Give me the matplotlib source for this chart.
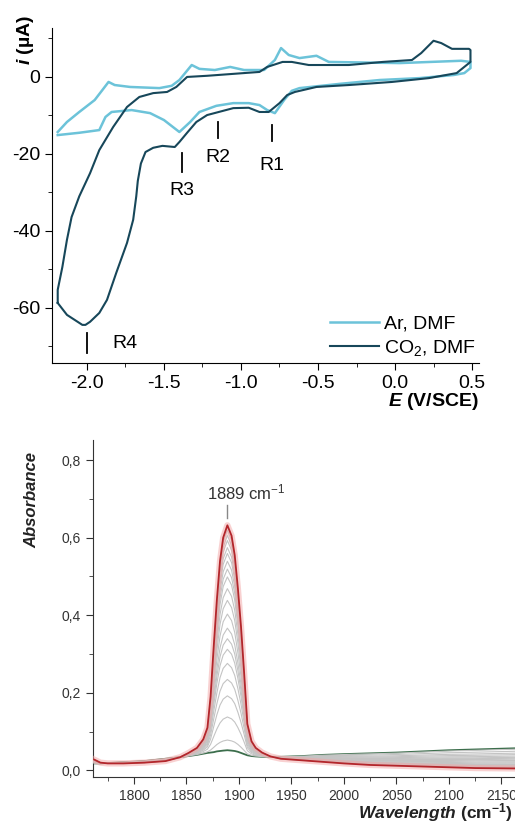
import numpy as np
import matplotlib.pyplot as plt
from matplotlib.ticker import MultipleLocator, FuncFormatter

plt.rcParams['font.family'] = ['Liberation Sans', 'DejaVu Sans']
plt.rcParams['mathtext.fontset'] = 'custom'
plt.rcParams['mathtext.it'] = 'Liberation Sans:italic:bold'
plt.rcParams['mathtext.rm'] = 'Liberation Sans'
plt.rcParams['axes.unicode_minus'] = False

# ---- cyclic voltammograms (E in V/SCE, i in uA) ----
ar_E = [-2.19, -2.13, -2.05, -1.95, -1.90, -1.86, -1.82, -1.72, -1.53, -1.45, -1.40,
        -1.32, -1.27, -1.17, -1.07, -0.98, -0.85, -0.78, -0.74, -0.69, -0.62, -0.51,
        -0.43, 0.03, 0.43, 0.49,
        0.49, 0.45, 0.38, 0.16, -0.10, -0.36, -0.62, -0.67, -0.72, -0.78, -0.83,
        -0.88, -0.95, -1.05, -1.16, -1.27, -1.33, -1.40, -1.50, -1.59, -1.71, -1.84,
        -1.88, -1.92, -2.05, -2.19]
ar_i = [-14.3, -11.7, -9.1, -6.0, -3.4, -1.3, -2.1, -2.6, -2.9, -2.3, -0.8,
        3.1, 2.1, 1.8, 2.6, 1.8, 1.8, 4.4, 7.5, 5.7, 4.9, 5.5,
        3.9, 3.6, 4.2, 3.9,
        2.3, 1.0, 0.5, -0.3, -0.8, -1.8, -2.9, -3.6, -6.0, -9.4, -8.6,
        -7.3, -6.8, -6.8, -7.5, -9.1, -11.7, -14.3, -11.2, -9.4, -8.6, -9.1,
        -10.4, -13.8, -14.5, -15.1]

co2_E = [-2.19, -2.19, -2.16, -2.13, -2.10, -2.05, -1.98, -1.92, -1.83, -1.74, -1.66,
         -1.57, -1.48, -1.42, -1.35, -1.22, -1.05, -0.88, -0.83, -0.73, -0.67, -0.56,
         -0.30, -0.08, 0.11, 0.17, 0.25, 0.30, 0.37, 0.48, 0.49,
         0.49, 0.40, 0.22, -0.02, -0.30, -0.51, -0.65, -0.70, -0.75, -0.82, -0.88,
         -0.95, -1.05, -1.22, -1.29, -1.35, -1.40, -1.43, -1.51, -1.57, -1.62, -1.65,
         -1.67, -1.68, -1.70, -1.74, -1.81, -1.87, -1.92, -1.98, -2.01, -2.03, -2.13,
         -2.19]
co2_i = [-58.7, -55.3, -49.4, -42.3, -36.4, -31.0, -25.0, -19.0, -13.0, -7.8, -5.2,
         -4.2, -3.9, -2.6, 0.0, 0.3, 0.8, 1.3, 2.6, 3.9, 3.9, 3.1,
         3.1, 3.9, 4.4, 6.2, 9.4, 8.8, 7.3, 7.3, 7.0,
         3.9, 1.0, -0.3, -1.3, -2.1, -2.6, -3.9, -4.7, -6.8, -9.1, -9.1,
         -8.0, -8.1, -9.9, -11.7, -14.5, -16.9, -18.2, -17.9, -18.4, -19.5, -22.5,
         -27.0, -31.0, -37.1, -43.1, -50.9, -57.9, -61.3, -63.6, -64.4, -64.4, -61.8,
         -58.7]

peak_names = ['R1', 'R2', 'R3', 'R4']
peak_E = [-0.80, -1.15, -1.385, -2.0]

# ---- IR spectra ----
wn = [1762, 1768, 1775, 1790, 1810, 1830, 1844, 1852, 1860, 1866, 1870, 1873, 1876,
      1879, 1882, 1885, 1889, 1893, 1896, 1899, 1902, 1905, 1908, 1912, 1916, 1922,
      1930, 1940, 1960, 1980, 2000, 2025, 2050, 2075, 2100, 2125, 2163]
abs_final = [0.028, 0.020, 0.018, 0.018, 0.020, 0.024, 0.034, 0.045, 0.058, 0.080,
             0.110, 0.190, 0.320, 0.440, 0.540, 0.600, 0.632, 0.605, 0.555, 0.470,
             0.370, 0.250, 0.120, 0.075, 0.058, 0.046, 0.036, 0.030, 0.026, 0.022,
             0.018, 0.014, 0.012, 0.010, 0.008, 0.006, 0.005]
abs_initial = [0.018, 0.018, 0.019, 0.021, 0.024, 0.030, 0.034, 0.037, 0.040, 0.043,
               0.045, 0.046, 0.047, 0.049, 0.050, 0.051, 0.052, 0.051, 0.050, 0.048,
               0.045, 0.042, 0.039, 0.037, 0.036, 0.035, 0.035, 0.035, 0.037, 0.040,
               0.042, 0.044, 0.046, 0.049, 0.052, 0.054, 0.057]
gray_peaks = [0.083, 0.142, 0.196, 0.238, 0.279, 0.315, 0.342, 0.369, 0.405, 0.44,
              0.47, 0.50, 0.52, 0.54, 0.56, 0.575, 0.593, 0.606, 0.62]

fig = plt.figure(figsize=(5.15, 8.25), dpi=100)

# ---------------- top: CV ----------------
ax1 = fig.add_axes([0.101, 0.56, 0.829, 0.406])
ax1.plot(ar_E, ar_i, color='#6cc3d9', lw=1.8, label='Ar, DMF')
ax1.plot(co2_E, co2_i, color='#17475a', lw=1.5, label='CO$\\mathregular{_2}$, DMF')
ax1.set_xlim(-2.227, 0.545)
ax1.set_ylim(-74.3, 12.7)
ax1.xaxis.set_major_locator(MultipleLocator(0.5))
ax1.xaxis.set_minor_locator(MultipleLocator(0.25))
ax1.yaxis.set_major_locator(MultipleLocator(20))
ax1.yaxis.set_minor_locator(MultipleLocator(10))
ax1.xaxis.set_major_formatter(FuncFormatter(lambda v, p: f'{v:.1f}'))
for s in ['top', 'right']:
    ax1.spines[s].set_visible(False)
ax1.tick_params(which='major', length=5, labelsize=14, direction='out')
ax1.tick_params(which='minor', length=3, direction='out')

tick_top = [-12.5, -11.7, -19.7, -66.5]
tick_bot = [-16.6, -15.8, -24.7, -71.7]
lab_y = [-23.0, -21.0, -29.5, -69.3]
lab_dx = [0.0, 0.0, 0.0, 0.245]
for name, e, t0, t1, ly, dx in zip(peak_names, peak_E, tick_top, tick_bot, lab_y, lab_dx):
    ax1.plot([e, e], [t0, t1], color='black', lw=1.3)
    ax1.text(e + dx, ly, name, fontsize=14, ha='center', va='center')

ax1.legend(loc='lower right', bbox_to_anchor=(1.015, -0.015), frameon=False,
           fontsize=14, handlelength=2.5, handletextpad=0.25, labelspacing=0.3,
           borderpad=0.0)
fig.text(0.049, 1 - 40 / 825, '$i$ (µA)', rotation=90, fontsize=14, fontweight='bold',
         ha='center', va='center')
fig.text(0.93, 1 - 401 / 825, '$E$ (V/SCE)', fontsize=14, fontweight='bold',
         ha='right', va='center')

# ---------------- bottom: IR ----------------
ax2 = fig.add_axes([0.1806, 0.0582, 0.8194, 0.4085])
wn_a = np.array(wn)
fin = np.array(abs_final)
ini = np.array(abs_initial)
ax2.plot(wn_a, ini, color='#3c6e4c', lw=1.3, zorder=2)
for h in gray_peaks:
    f = (h - ini.max()) / (fin.max() - ini.max())
    ax2.plot(wn_a, ini + f * (fin - ini), color='#c4c4c4', lw=0.8, zorder=3)
ax2.plot(wn_a, fin, color='#f3a5a5', lw=4.5, alpha=0.5, zorder=4)
ax2.plot(wn_a, fin, color='#b3262b', lw=1.3, zorder=5)

ax2.set_xlim(1761, 2163)
ax2.set_ylim(-0.017, 0.852)
ax2.xaxis.set_major_locator(MultipleLocator(50))
ax2.xaxis.set_minor_locator(MultipleLocator(25))
ax2.yaxis.set_major_locator(MultipleLocator(0.2))
ax2.yaxis.set_minor_locator(MultipleLocator(0.1))
ax2.yaxis.set_major_formatter(FuncFormatter(lambda v, p: f'{v:.1f}'.replace('.', ',')))
for s in ['top', 'right']:
    ax2.spines[s].set_visible(False)
for s in ['left', 'bottom']:
    ax2.spines[s].set_color('#333333')
ax2.tick_params(which='major', length=5, labelsize=10, colors='#333333', direction='out')
ax2.tick_params(which='minor', length=3, colors='#333333', direction='out')

ax2.plot([1889, 1889], [0.650, 0.684], color='#888888', lw=1.0)
ax2.text(1869.5, 0.717, '1889 cm$\\mathregular{^{-1}}$', fontsize=12, color='#333333',
         ha='left', va='center')

fig.text(0.062, 1 - 500 / 825, 'Absorbance', rotation=90, fontsize=12,
         fontweight='bold', style='italic', ha='center', va='center', color='#222222')
fig.text(0.995, 1 - 813 / 825, '$Wavelength$ (cm$\\mathregular{^{-1}}$)', fontsize=12.5,
         fontweight='bold', ha='right', va='center', color='#222222')

fig.savefig('out.png', dpi=100)
